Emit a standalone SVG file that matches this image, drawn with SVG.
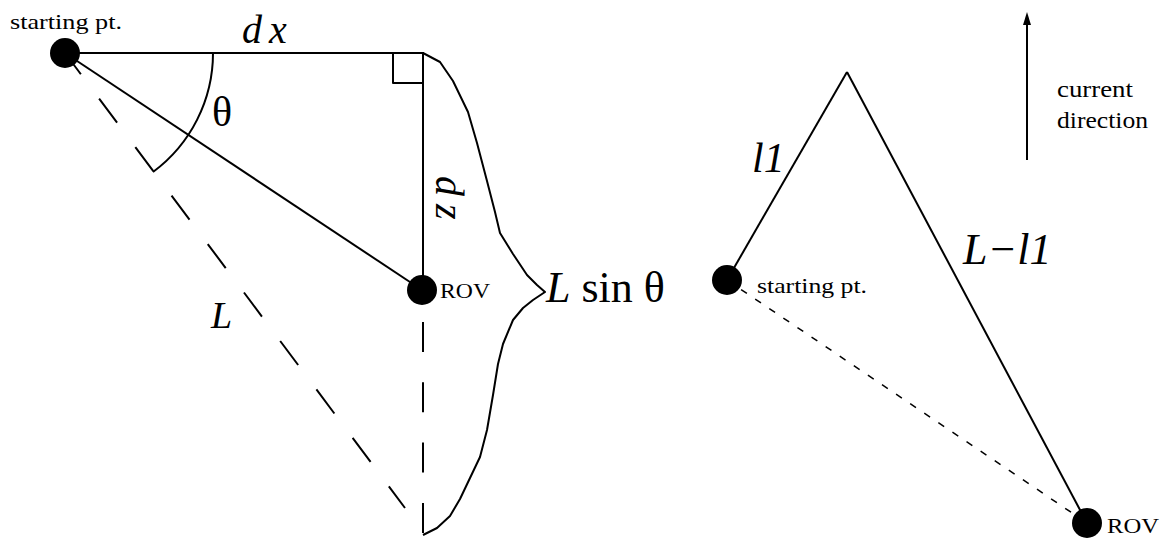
<svg xmlns="http://www.w3.org/2000/svg" width="1164" height="538" viewBox="0 0 1164 538">
<style>
.ln{stroke:#000;stroke-width:2;fill:none;stroke-linejoin:round;stroke-linecap:butt}
.dash{stroke:#000;stroke-width:2;fill:none;stroke-dasharray:30 30.5}
.dot{fill:#000}
.lbl{font-family:"Liberation Serif","Times New Roman",serif;fill:#000}
.math{font-family:"Liberation Serif","Times New Roman",serif;font-style:italic;fill:#000}
.up{font-family:"Liberation Serif","Times New Roman",serif;fill:#000}
</style>
<rect width="1164" height="538" fill="#fff"/>
<g id="connectors">
  <line class="ln" x1="65" y1="53" x2="424" y2="53"/>
  <line class="ln" x1="423" y1="53" x2="423" y2="290"/>
  <polyline class="ln" points="393,53 393,83 423,83"/>
  <line class="ln" x1="65" y1="53" x2="422" y2="290"/>
  <path class="ln" d="M213 53 A148 148 0 0 1 153 172"/>
  <line class="dash" x1="65" y1="53" x2="405" y2="508" stroke-dashoffset="3.5"/>
  <line class="dash" x1="423" y1="322" x2="423" y2="535" style="stroke-dasharray:30 30.3"/>
  <path class="ln" d="M423 53 L440 62 L453 81 L468 112 L477 143 L487 181 L495 212 L500 233 L513 254 L527 275 L537 285 L545 292 L533 300 L523 308 L513 320 L503 344 L498 364 L493 395 L487 430 L480 457 L470 478 L460 499 L450 516 L437 528 L423 535"/>
  <line class="ln" x1="727" y1="280" x2="847" y2="72"/>
  <line class="ln" x1="847" y1="72" x2="1087" y2="523"/>
  <line class="ln" x1="727" y1="280" x2="1087" y2="523" style="stroke-width:1.5;stroke-dasharray:7 10"/>
  <line class="ln" x1="1027" y1="160" x2="1027" y2="22"/>
  <polygon points="1027,12 1023,25 1031,25" fill="#000"/>
</g>
<g id="start-left">
  <circle class="dot" cx="65" cy="53" r="15"/>
  <text class="lbl" x="10" y="29" font-size="21" textLength="112" lengthAdjust="spacingAndGlyphs">starting pt.</text>
</g>
<g id="rov-left">
  <circle class="dot" cx="422" cy="290" r="15"/>
  <text class="lbl" x="440" y="298" font-size="20" textLength="50" lengthAdjust="spacingAndGlyphs">ROV</text>
</g>
<g id="labels-left">
  <text class="math" x="242" y="43" font-size="40" letter-spacing="7">dx</text>
  <text class="up" x="212" y="126" font-size="42">θ</text>
  <text class="math" transform="translate(436,176) rotate(90)" font-size="40" letter-spacing="8">dz</text>
  <text class="math" x="211" y="328" font-size="38">L</text>
  <text x="546" y="302" font-size="44" class="up"><tspan class="math">L</tspan> sin θ</text>
</g>
<g id="start-right">
  <circle class="dot" cx="727" cy="280" r="15"/>
  <text class="lbl" x="757" y="293" font-size="21" textLength="110" lengthAdjust="spacingAndGlyphs">starting pt.</text>
</g>
<g id="rov-right">
  <circle class="dot" cx="1087" cy="523" r="15"/>
  <text class="lbl" x="1107" y="533" font-size="20" textLength="52" lengthAdjust="spacingAndGlyphs">ROV</text>
</g>
<g id="labels-right">
  <text class="math" x="752" y="172" font-size="42">l1</text>
  <text class="math" x="963" y="264" font-size="44">L−l1</text>
</g>
<g id="current">
  <text class="lbl" x="1057" y="97" font-size="23" textLength="76" lengthAdjust="spacingAndGlyphs">current</text>
  <text class="lbl" x="1057" y="128" font-size="23" textLength="91" lengthAdjust="spacingAndGlyphs">direction</text>
</g>
</svg>
